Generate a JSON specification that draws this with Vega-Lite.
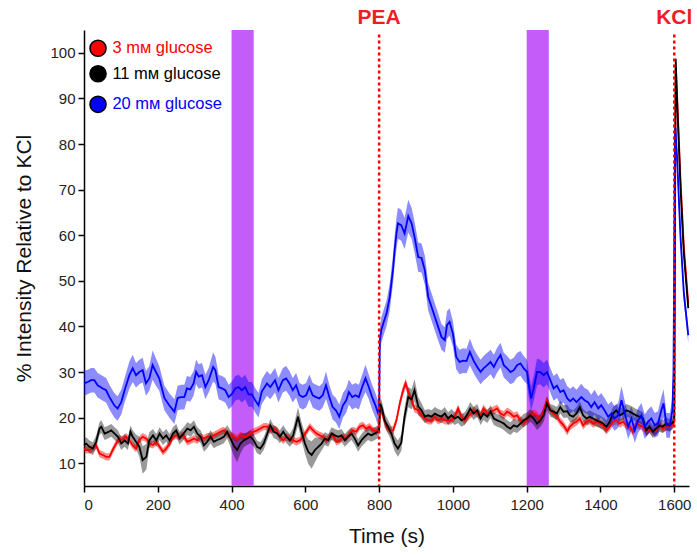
{
  "$schema": "https://vega.github.io/schema/vega-lite/v6.json",
  "width": 605,
  "height": 456,
  "autosize": "none",
  "padding": {"left": 84, "top": 30, "right": 8, "bottom": 69},
  "background": "white",
  "config": {
    "view": {"stroke": null},
    "font": "Liberation Sans",
    "axis": {"grid": false, "domainColor": "#000", "domainWidth": 1.5, "tickColor": "#000", "tickWidth": 1.5, "tickSize": 6, "labelFont": "Liberation Sans", "titleFont": "Liberation Sans", "labelFontSize": 15, "labelColor": "#222", "titleFontWeight": "normal", "titleColor": "#111"}
  },
  "datasets": {
    "red": [
      {"t":0,"v":13.2,"e":0.8},{"t":6,"v":12.9,"e":0.8},{"t":15,"v":12.9,"e":0.8},{"t":24,"v":13.2,"e":0.8},{"t":33,"v":13.9,"e":0.8},{"t":42,"v":12.1,"e":0.8},{"t":51,"v":11.8,"e":0.8},{"t":60,"v":11.4,"e":0.8},{"t":69,"v":11.4,"e":0.8},{"t":78,"v":12.9,"e":0.8},{"t":87,"v":14.3,"e":0.8},{"t":96,"v":15.4,"e":0.8},{"t":105,"v":15.1,"e":0.8},{"t":114,"v":15.8,"e":0.8},{"t":123,"v":15.1,"e":0.8},{"t":132,"v":13.9,"e":0.8},{"t":141,"v":13.2,"e":0.8},{"t":150,"v":15.1,"e":0.8},{"t":159,"v":15.8,"e":0.8},{"t":169,"v":15.4,"e":0.8},{"t":177,"v":14.3,"e":0.8},{"t":187,"v":14.0,"e":0.8},{"t":196,"v":14.7,"e":0.8},{"t":205,"v":13.6,"e":0.8},{"t":214,"v":12.5,"e":0.8},{"t":223,"v":13.2,"e":0.8},{"t":232,"v":14.3,"e":0.8},{"t":241,"v":15.8,"e":0.8},{"t":250,"v":16.1,"e":0.8},{"t":259,"v":15.8,"e":0.8},{"t":268,"v":16.2,"e":0.8},{"t":280,"v":14.7,"e":0.8},{"t":289,"v":15.0,"e":0.8},{"t":298,"v":15.4,"e":0.8},{"t":307,"v":15.0,"e":0.8},{"t":316,"v":15.8,"e":0.8},{"t":325,"v":15.4,"e":0.8},{"t":334,"v":15.8,"e":0.8},{"t":343,"v":15.8,"e":0.8},{"t":352,"v":16.1,"e":0.8},{"t":361,"v":16.5,"e":0.8},{"t":370,"v":16.9,"e":0.8},{"t":379,"v":17.2,"e":0.8},{"t":388,"v":16.5,"e":0.8},{"t":397,"v":16.1,"e":0.8},{"t":406,"v":15.8,"e":0.8},{"t":415,"v":15.4,"e":0.8},{"t":424,"v":16.1,"e":0.8},{"t":433,"v":15.8,"e":0.8},{"t":442,"v":15.8,"e":0.8},{"t":451,"v":16.5,"e":0.8},{"t":460,"v":16.9,"e":0.8},{"t":469,"v":17.2,"e":0.8},{"t":478,"v":17.6,"e":0.8},{"t":487,"v":18.0,"e":0.8},{"t":497,"v":18.0,"e":0.8},{"t":505,"v":17.2,"e":0.8},{"t":514,"v":17.6,"e":0.8},{"t":522,"v":17.2,"e":0.8},{"t":531,"v":15.8,"e":0.8},{"t":540,"v":15.0,"e":0.8},{"t":549,"v":15.8,"e":0.8},{"t":558,"v":15.4,"e":0.8},{"t":567,"v":15.0,"e":0.8},{"t":576,"v":14.7,"e":0.8},{"t":585,"v":15.0,"e":0.8},{"t":594,"v":15.8,"e":0.8},{"t":603,"v":16.9,"e":0.8},{"t":612,"v":18.0,"e":0.8},{"t":621,"v":17.2,"e":0.8},{"t":630,"v":16.5,"e":0.8},{"t":639,"v":16.1,"e":0.8},{"t":648,"v":15.8,"e":0.8},{"t":657,"v":15.0,"e":0.8},{"t":666,"v":15.8,"e":0.8},{"t":675,"v":16.1,"e":0.8},{"t":684,"v":14.7,"e":0.8},{"t":693,"v":15.0,"e":0.8},{"t":702,"v":15.8,"e":0.8},{"t":711,"v":15.4,"e":0.8},{"t":720,"v":16.5,"e":0.8},{"t":729,"v":17.2,"e":0.8},{"t":738,"v":16.9,"e":0.8},{"t":747,"v":18.0,"e":0.8},{"t":756,"v":18.3,"e":0.8},{"t":765,"v":17.6,"e":0.8},{"t":774,"v":18.0,"e":0.8},{"t":784,"v":17.2,"e":0.8},{"t":793,"v":16.9,"e":0.8},{"t":800,"v":18.0,"e":0.8},{"t":803,"v":22.3,"e":0.9},{"t":811,"v":20.2,"e":0.9},{"t":820,"v":18.0,"e":0.9},{"t":829,"v":17.2,"e":0.9},{"t":838,"v":17.2,"e":0.9},{"t":847,"v":19.4,"e":0.9},{"t":856,"v":23.1,"e":1.0},{"t":865,"v":26.0,"e":1.1},{"t":872,"v":27.5,"e":1.1},{"t":879,"v":25.6,"e":1.1},{"t":888,"v":23.8,"e":1.0},{"t":896,"v":22.0,"e":0.9},{"t":906,"v":21.6,"e":0.9},{"t":915,"v":20.5,"e":0.9},{"t":924,"v":19.8,"e":0.9},{"t":933,"v":19.4,"e":0.9},{"t":942,"v":19.4,"e":0.9},{"t":951,"v":20.2,"e":0.9},{"t":960,"v":19.4,"e":0.9},{"t":969,"v":19.8,"e":0.9},{"t":978,"v":19.4,"e":0.9},{"t":987,"v":19.4,"e":0.9},{"t":996,"v":19.4,"e":0.9},{"t":1005,"v":20.2,"e":0.9},{"t":1014,"v":22.0,"e":0.9},{"t":1023,"v":20.2,"e":0.9},{"t":1032,"v":19.4,"e":0.9},{"t":1041,"v":20.2,"e":0.9},{"t":1050,"v":20.9,"e":0.9},{"t":1056,"v":21.6,"e":0.9},{"t":1066,"v":20.9,"e":0.9},{"t":1075,"v":20.5,"e":0.9},{"t":1083,"v":22.0,"e":0.9},{"t":1093,"v":20.9,"e":0.9},{"t":1102,"v":21.3,"e":0.9},{"t":1111,"v":21.6,"e":0.9},{"t":1120,"v":22.0,"e":0.9},{"t":1129,"v":20.9,"e":0.9},{"t":1138,"v":20.5,"e":0.9},{"t":1147,"v":21.3,"e":0.9},{"t":1156,"v":20.9,"e":0.9},{"t":1165,"v":20.2,"e":0.9},{"t":1174,"v":20.5,"e":0.9},{"t":1183,"v":19.4,"e":0.9},{"t":1192,"v":18.7,"e":0.9},{"t":1201,"v":19.8,"e":0.9},{"t":1210,"v":20.5,"e":0.9},{"t":1219,"v":20.9,"e":0.9},{"t":1228,"v":20.5,"e":0.9},{"t":1237,"v":19.4,"e":0.9},{"t":1246,"v":21.6,"e":1.0},{"t":1255,"v":23.8,"e":1.0},{"t":1264,"v":21.6,"e":0.9},{"t":1273,"v":20.9,"e":0.9},{"t":1282,"v":20.2,"e":0.9},{"t":1291,"v":19.1,"e":0.9},{"t":1300,"v":18.3,"e":0.9},{"t":1310,"v":17.0,"e":0.9},{"t":1317,"v":18.0,"e":0.9},{"t":1326,"v":18.7,"e":0.9},{"t":1335,"v":19.1,"e":0.9},{"t":1344,"v":19.8,"e":0.9},{"t":1353,"v":18.3,"e":0.9},{"t":1362,"v":19.1,"e":0.9},{"t":1371,"v":19.4,"e":0.9},{"t":1380,"v":18.7,"e":0.9},{"t":1389,"v":19.1,"e":0.9},{"t":1398,"v":18.7,"e":0.9},{"t":1407,"v":18.3,"e":0.9},{"t":1416,"v":17.2,"e":0.9},{"t":1425,"v":18.0,"e":0.9},{"t":1434,"v":19.1,"e":0.9},{"t":1443,"v":19.4,"e":0.9},{"t":1452,"v":18.7,"e":0.9},{"t":1461,"v":19.1,"e":0.9},{"t":1470,"v":18.3,"e":0.9},{"t":1479,"v":18.0,"e":0.9},{"t":1488,"v":16.9,"e":0.9},{"t":1497,"v":18.7,"e":0.9},{"t":1506,"v":18.3,"e":0.9},{"t":1515,"v":18.0,"e":0.9},{"t":1524,"v":16.9,"e":0.9},{"t":1533,"v":17.6,"e":0.9},{"t":1542,"v":16.9,"e":0.9},{"t":1551,"v":17.2,"e":0.9},{"t":1560,"v":18.3,"e":0.9},{"t":1569,"v":17.6,"e":0.9},{"t":1578,"v":18.0,"e":0.9},{"t":1587,"v":18.0,"e":0.9},{"t":1597,"v":18.5,"e":0.9},{"t":1600,"v":19.0,"e":0.9},{"t":1602,"v":60.0,"e":1.0},{"t":1604,"v":97.0,"e":1.0},{"t":1608,"v":90.0,"e":1.0},{"t":1617,"v":72.0,"e":1.0},{"t":1626,"v":57.5,"e":1.0},{"t":1638,"v":45.0,"e":1.0}
    ],
    "black": [
      {"t":0,"v":14.0,"e":1.4},{"t":6,"v":14.3,"e":1.4},{"t":15,"v":13.6,"e":1.4},{"t":24,"v":13.2,"e":1.4},{"t":33,"v":14.7,"e":1.4},{"t":42,"v":17.6,"e":1.4},{"t":47,"v":18.0,"e":1.4},{"t":56,"v":16.5,"e":1.4},{"t":65,"v":16.8,"e":1.4},{"t":74,"v":17.2,"e":1.4},{"t":83,"v":16.5,"e":1.4},{"t":92,"v":15.8,"e":1.4},{"t":101,"v":14.3,"e":1.4},{"t":110,"v":15.0,"e":1.4},{"t":119,"v":14.3,"e":1.4},{"t":126,"v":16.9,"e":1.4},{"t":132,"v":15.8,"e":1.4},{"t":141,"v":14.7,"e":1.6},{"t":150,"v":13.6,"e":2.2},{"t":159,"v":10.7,"e":3.0},{"t":169,"v":11.4,"e":2.8},{"t":177,"v":15.0,"e":1.8},{"t":187,"v":16.1,"e":1.4},{"t":196,"v":15.0,"e":1.4},{"t":205,"v":16.5,"e":1.4},{"t":214,"v":15.4,"e":1.4},{"t":223,"v":16.1,"e":1.4},{"t":232,"v":15.0,"e":1.4},{"t":241,"v":16.5,"e":1.4},{"t":250,"v":17.2,"e":1.4},{"t":259,"v":15.5,"e":1.4},{"t":270,"v":16.5,"e":1.4},{"t":280,"v":17.6,"e":1.4},{"t":289,"v":17.2,"e":1.4},{"t":298,"v":18.0,"e":1.4},{"t":307,"v":16.5,"e":1.4},{"t":316,"v":15.8,"e":1.4},{"t":325,"v":13.9,"e":1.4},{"t":334,"v":14.7,"e":1.4},{"t":343,"v":15.8,"e":1.4},{"t":352,"v":14.7,"e":1.4},{"t":361,"v":15.1,"e":1.4},{"t":370,"v":15.4,"e":1.4},{"t":379,"v":15.8,"e":1.4},{"t":388,"v":16.9,"e":1.5},{"t":397,"v":15.4,"e":1.8},{"t":406,"v":13.9,"e":2.2},{"t":415,"v":12.9,"e":2.7},{"t":424,"v":14.3,"e":2.2},{"t":433,"v":15.0,"e":1.5},{"t":442,"v":15.4,"e":1.4},{"t":451,"v":15.8,"e":1.4},{"t":460,"v":15.0,"e":1.4},{"t":469,"v":13.6,"e":1.4},{"t":478,"v":13.2,"e":1.4},{"t":487,"v":14.3,"e":1.4},{"t":497,"v":16.5,"e":1.4},{"t":505,"v":18.3,"e":1.4},{"t":514,"v":16.9,"e":1.4},{"t":524,"v":16.5,"e":1.4},{"t":531,"v":15.8,"e":1.4},{"t":540,"v":16.9,"e":1.4},{"t":549,"v":15.8,"e":1.4},{"t":558,"v":15.0,"e":1.4},{"t":567,"v":16.1,"e":1.6},{"t":580,"v":20.2,"e":2.0},{"t":590,"v":16.9,"e":2.0},{"t":599,"v":14.3,"e":2.2},{"t":608,"v":12.5,"e":2.7},{"t":617,"v":11.8,"e":3.0},{"t":626,"v":12.9,"e":2.7},{"t":635,"v":13.6,"e":2.0},{"t":644,"v":14.3,"e":1.5},{"t":653,"v":15.4,"e":1.4},{"t":662,"v":15.0,"e":1.4},{"t":671,"v":16.5,"e":1.4},{"t":680,"v":16.1,"e":1.4},{"t":689,"v":15.8,"e":1.4},{"t":698,"v":16.1,"e":1.4},{"t":707,"v":15.0,"e":1.4},{"t":716,"v":15.8,"e":1.4},{"t":725,"v":16.5,"e":1.4},{"t":734,"v":15.4,"e":1.4},{"t":743,"v":13.9,"e":1.4},{"t":752,"v":15.0,"e":1.4},{"t":761,"v":15.8,"e":1.4},{"t":770,"v":16.5,"e":1.4},{"t":779,"v":16.1,"e":1.4},{"t":788,"v":16.5,"e":1.4},{"t":797,"v":16.9,"e":1.4},{"t":800,"v":17.0,"e":1.4},{"t":803,"v":23.1,"e":1.5},{"t":808,"v":22.0,"e":1.5},{"t":815,"v":19.4,"e":1.5},{"t":824,"v":18.0,"e":1.5},{"t":833,"v":16.5,"e":1.6},{"t":842,"v":14.3,"e":1.7},{"t":851,"v":13.2,"e":1.8},{"t":860,"v":14.5,"e":1.8},{"t":869,"v":20.2,"e":2.0},{"t":879,"v":24.5,"e":2.2},{"t":888,"v":24.0,"e":2.2},{"t":896,"v":26.0,"e":2.4},{"t":906,"v":22.5,"e":2.0},{"t":915,"v":21.6,"e":1.6},{"t":924,"v":20.2,"e":1.4},{"t":933,"v":20.5,"e":1.4},{"t":942,"v":20.2,"e":1.4},{"t":951,"v":20.9,"e":1.4},{"t":960,"v":20.5,"e":1.4},{"t":969,"v":20.2,"e":1.4},{"t":978,"v":20.9,"e":1.4},{"t":987,"v":19.8,"e":1.4},{"t":996,"v":20.5,"e":1.4},{"t":1005,"v":19.8,"e":1.4},{"t":1014,"v":20.2,"e":1.4},{"t":1023,"v":19.4,"e":1.4},{"t":1032,"v":19.8,"e":1.4},{"t":1041,"v":21.0,"e":1.4},{"t":1047,"v":22.0,"e":1.4},{"t":1056,"v":20.9,"e":1.4},{"t":1066,"v":21.6,"e":1.4},{"t":1075,"v":19.8,"e":1.4},{"t":1083,"v":20.9,"e":1.4},{"t":1093,"v":20.2,"e":1.4},{"t":1102,"v":21.3,"e":1.4},{"t":1111,"v":19.8,"e":1.4},{"t":1120,"v":19.4,"e":1.4},{"t":1129,"v":19.1,"e":1.4},{"t":1138,"v":18.7,"e":1.4},{"t":1147,"v":18.0,"e":1.4},{"t":1156,"v":17.6,"e":1.4},{"t":1165,"v":18.3,"e":1.4},{"t":1174,"v":18.0,"e":1.4},{"t":1183,"v":18.7,"e":1.4},{"t":1192,"v":19.4,"e":1.4},{"t":1201,"v":19.8,"e":1.4},{"t":1210,"v":20.5,"e":1.4},{"t":1219,"v":19.8,"e":1.4},{"t":1228,"v":18.7,"e":1.4},{"t":1237,"v":19.4,"e":1.4},{"t":1246,"v":20.5,"e":1.4},{"t":1255,"v":23.1,"e":1.5},{"t":1264,"v":21.6,"e":1.4},{"t":1273,"v":21.3,"e":1.4},{"t":1282,"v":20.9,"e":1.4},{"t":1291,"v":22.3,"e":1.4},{"t":1300,"v":21.3,"e":1.4},{"t":1310,"v":21.4,"e":1.4},{"t":1317,"v":20.5,"e":1.4},{"t":1326,"v":20.2,"e":1.4},{"t":1335,"v":20.9,"e":1.4},{"t":1344,"v":22.3,"e":1.4},{"t":1353,"v":20.5,"e":1.4},{"t":1362,"v":19.8,"e":1.4},{"t":1371,"v":20.2,"e":1.4},{"t":1380,"v":19.8,"e":1.4},{"t":1389,"v":19.4,"e":1.4},{"t":1398,"v":19.1,"e":1.4},{"t":1407,"v":18.7,"e":1.4},{"t":1416,"v":18.0,"e":1.4},{"t":1425,"v":19.1,"e":1.4},{"t":1434,"v":20.9,"e":1.4},{"t":1443,"v":21.6,"e":1.4},{"t":1452,"v":20.5,"e":1.4},{"t":1461,"v":20.9,"e":1.4},{"t":1470,"v":21.6,"e":1.4},{"t":1479,"v":21.3,"e":1.4},{"t":1488,"v":20.9,"e":1.4},{"t":1497,"v":20.5,"e":1.4},{"t":1506,"v":20.2,"e":1.4},{"t":1515,"v":19.8,"e":1.4},{"t":1524,"v":17.2,"e":1.4},{"t":1533,"v":18.0,"e":1.4},{"t":1542,"v":16.9,"e":1.4},{"t":1551,"v":17.6,"e":1.4},{"t":1560,"v":18.3,"e":1.4},{"t":1569,"v":18.0,"e":1.4},{"t":1578,"v":18.7,"e":1.4},{"t":1587,"v":18.3,"e":1.4},{"t":1597,"v":19.0,"e":1.4},{"t":1600,"v":20.0,"e":1.4},{"t":1602,"v":70.0,"e":1.2},{"t":1604,"v":98.7,"e":1.2},{"t":1608,"v":89.0,"e":1.2},{"t":1617,"v":70.6,"e":1.2},{"t":1626,"v":56.0,"e":1.2},{"t":1638,"v":44.0,"e":1.2}
    ],
    "blue": [
      {"t":0,"v":27.5,"e":2.7},{"t":10,"v":27.8,"e":2.7},{"t":19,"v":28.2,"e":2.7},{"t":28,"v":28.2,"e":2.7},{"t":37,"v":27.1,"e":2.7},{"t":51,"v":26.4,"e":2.7},{"t":60,"v":26.0,"e":2.7},{"t":69,"v":24.5,"e":2.7},{"t":82,"v":22.7,"e":2.7},{"t":91,"v":22.0,"e":2.7},{"t":101,"v":23.4,"e":2.7},{"t":110,"v":26.0,"e":2.7},{"t":123,"v":29.3,"e":3.0},{"t":132,"v":30.8,"e":3.0},{"t":141,"v":29.3,"e":2.7},{"t":150,"v":30.0,"e":2.7},{"t":159,"v":30.4,"e":2.7},{"t":168,"v":27.5,"e":2.7},{"t":177,"v":28.6,"e":2.7},{"t":186,"v":31.5,"e":3.2},{"t":195,"v":30.0,"e":3.0},{"t":204,"v":28.6,"e":2.7},{"t":218,"v":24.3,"e":2.7},{"t":231,"v":22.7,"e":2.7},{"t":245,"v":21.3,"e":2.7},{"t":254,"v":24.3,"e":2.7},{"t":263,"v":24.5,"e":2.7},{"t":272,"v":24.5,"e":2.7},{"t":279,"v":26.4,"e":2.7},{"t":288,"v":26.2,"e":2.7},{"t":297,"v":27.5,"e":2.7},{"t":304,"v":30.0,"e":2.7},{"t":311,"v":29.0,"e":2.7},{"t":320,"v":29.3,"e":2.7},{"t":329,"v":26.7,"e":2.7},{"t":338,"v":28.2,"e":2.7},{"t":350,"v":31.1,"e":3.2},{"t":356,"v":30.4,"e":3.0},{"t":365,"v":26.7,"e":2.7},{"t":374,"v":26.4,"e":2.7},{"t":383,"v":26.0,"e":2.7},{"t":392,"v":24.5,"e":2.7},{"t":401,"v":25.2,"e":2.7},{"t":410,"v":26.4,"e":2.7},{"t":419,"v":26.7,"e":2.7},{"t":428,"v":26.0,"e":2.7},{"t":437,"v":26.7,"e":2.7},{"t":446,"v":25.1,"e":2.7},{"t":455,"v":25.1,"e":2.7},{"t":464,"v":23.8,"e":2.7},{"t":473,"v":22.7,"e":2.7},{"t":482,"v":25.7,"e":2.7},{"t":496,"v":27.5,"e":2.7},{"t":505,"v":26.7,"e":2.7},{"t":518,"v":28.2,"e":2.7},{"t":527,"v":26.0,"e":2.7},{"t":539,"v":28.2,"e":2.7},{"t":548,"v":28.6,"e":2.7},{"t":557,"v":27.5,"e":2.7},{"t":566,"v":26.0,"e":2.7},{"t":575,"v":27.1,"e":2.7},{"t":584,"v":24.9,"e":2.7},{"t":593,"v":24.5,"e":2.7},{"t":602,"v":24.9,"e":2.7},{"t":611,"v":26.7,"e":2.7},{"t":620,"v":24.9,"e":2.7},{"t":629,"v":24.5,"e":2.7},{"t":638,"v":24.2,"e":2.7},{"t":647,"v":24.9,"e":2.7},{"t":656,"v":27.1,"e":3.0},{"t":665,"v":24.5,"e":2.7},{"t":674,"v":22.3,"e":2.7},{"t":683,"v":21.6,"e":2.7},{"t":692,"v":20.2,"e":2.7},{"t":702,"v":22.7,"e":2.7},{"t":711,"v":23.8,"e":2.7},{"t":718,"v":25.6,"e":2.7},{"t":727,"v":24.5,"e":2.7},{"t":736,"v":24.9,"e":2.7},{"t":745,"v":24.5,"e":2.7},{"t":754,"v":26.7,"e":2.7},{"t":763,"v":28.6,"e":3.0},{"t":772,"v":26.7,"e":2.7},{"t":781,"v":24.5,"e":2.7},{"t":790,"v":22.7,"e":2.7},{"t":796,"v":21.2,"e":2.7},{"t":800,"v":22.0,"e":2.7},{"t":802,"v":37.0,"e":2.8},{"t":806,"v":39.2,"e":2.8},{"t":811,"v":40.6,"e":2.8},{"t":820,"v":42.8,"e":2.8},{"t":829,"v":46.5,"e":3.0},{"t":833,"v":49.4,"e":3.0},{"t":838,"v":52.7,"e":3.2},{"t":842,"v":56.7,"e":3.2},{"t":847,"v":60.4,"e":3.4},{"t":851,"v":62.6,"e":3.4},{"t":860,"v":62.2,"e":3.4},{"t":869,"v":60.4,"e":3.4},{"t":879,"v":64.2,"e":3.6},{"t":888,"v":62.6,"e":3.4},{"t":896,"v":59.6,"e":3.4},{"t":906,"v":55.2,"e":3.2},{"t":915,"v":55.0,"e":3.2},{"t":924,"v":52.3,"e":3.2},{"t":933,"v":46.5,"e":3.0},{"t":942,"v":44.3,"e":3.0},{"t":951,"v":42.1,"e":3.0},{"t":960,"v":39.9,"e":3.0},{"t":969,"v":37.7,"e":2.8},{"t":978,"v":37.0,"e":2.8},{"t":984,"v":40.3,"e":3.0},{"t":991,"v":41.0,"e":3.0},{"t":1000,"v":38.4,"e":2.8},{"t":1009,"v":33.3,"e":2.7},{"t":1018,"v":32.2,"e":2.7},{"t":1028,"v":32.5,"e":2.7},{"t":1037,"v":32.4,"e":2.7},{"t":1046,"v":34.4,"e":2.9},{"t":1056,"v":32.5,"e":2.7},{"t":1066,"v":31.1,"e":2.7},{"t":1075,"v":30.0,"e":2.7},{"t":1083,"v":30.8,"e":2.7},{"t":1093,"v":31.5,"e":2.7},{"t":1102,"v":32.2,"e":2.7},{"t":1111,"v":31.1,"e":2.7},{"t":1120,"v":32.6,"e":2.7},{"t":1129,"v":33.7,"e":2.7},{"t":1138,"v":31.5,"e":2.7},{"t":1147,"v":30.8,"e":2.7},{"t":1156,"v":30.0,"e":2.7},{"t":1165,"v":30.4,"e":2.7},{"t":1174,"v":31.5,"e":2.7},{"t":1183,"v":31.9,"e":2.7},{"t":1192,"v":30.8,"e":2.7},{"t":1201,"v":30.0,"e":2.7},{"t":1205,"v":27.5,"e":2.7},{"t":1212,"v":24.2,"e":2.7},{"t":1219,"v":26.4,"e":2.7},{"t":1228,"v":30.0,"e":2.9},{"t":1237,"v":30.0,"e":2.7},{"t":1246,"v":29.3,"e":2.7},{"t":1255,"v":30.0,"e":2.7},{"t":1264,"v":28.2,"e":2.7},{"t":1273,"v":26.4,"e":2.7},{"t":1282,"v":27.0,"e":2.7},{"t":1291,"v":25.6,"e":2.7},{"t":1300,"v":26.0,"e":2.7},{"t":1310,"v":24.2,"e":2.7},{"t":1318,"v":23.6,"e":2.7},{"t":1326,"v":24.2,"e":2.7},{"t":1335,"v":23.4,"e":2.7},{"t":1348,"v":24.5,"e":2.9},{"t":1357,"v":23.8,"e":2.7},{"t":1366,"v":23.4,"e":2.7},{"t":1375,"v":22.3,"e":2.7},{"t":1384,"v":23.4,"e":2.7},{"t":1394,"v":22.0,"e":2.7},{"t":1402,"v":22.7,"e":2.7},{"t":1411,"v":21.6,"e":2.7},{"t":1421,"v":20.2,"e":2.7},{"t":1430,"v":20.9,"e":2.7},{"t":1438,"v":19.8,"e":2.7},{"t":1448,"v":20.5,"e":2.7},{"t":1457,"v":23.8,"e":3.1},{"t":1466,"v":20.9,"e":2.7},{"t":1475,"v":18.0,"e":2.7},{"t":1484,"v":19.8,"e":2.7},{"t":1493,"v":17.2,"e":2.7},{"t":1502,"v":19.4,"e":2.7},{"t":1511,"v":20.5,"e":2.7},{"t":1520,"v":18.0,"e":2.7},{"t":1529,"v":19.1,"e":2.7},{"t":1538,"v":19.8,"e":2.7},{"t":1547,"v":18.3,"e":2.7},{"t":1556,"v":18.7,"e":2.7},{"t":1565,"v":21.6,"e":2.9},{"t":1571,"v":23.1,"e":3.1},{"t":1579,"v":18.3,"e":2.7},{"t":1588,"v":18.3,"e":2.7},{"t":1595,"v":21.6,"e":2.7},{"t":1598,"v":30.0,"e":2.5},{"t":1601,"v":70.0,"e":2.4},{"t":1603,"v":83.5,"e":2.4},{"t":1608,"v":76.4,"e":2.4},{"t":1617,"v":59.6,"e":2.2},{"t":1626,"v":47.3,"e":2.0},{"t":1638,"v":38.1,"e":1.8}
    ],
    "stims": [{"a":400,"b":460},{"a":1200,"b":1260}],
    "events": [{"t":800,"label":"PEA"},{"t":1600,"label":"KCl"}],
    "legend": [
      {"cond":"3 mᴍ glucose","x":38,"xt":77,"y":101.0,"col":"red"},
      {"cond":"11 mᴍ glucose","x":38,"xt":77,"y":95.4,"col":"black"},
      {"cond":"20 mᴍ glucose","x":38,"xt":77,"y":88.7,"col":"blue"}
    ]
  },
  "layer": [
    {
      "data": {"name": "stims"},
      "mark": {"type": "rect", "color": "#c35cf8", "opacity": 1},
      "encoding": {
        "x": {"field": "a", "type": "quantitative", "title": "Time (s)", "scale": {"domain": [0, 1640], "nice": false, "zero": false}, "axis": {"title": "Time (s)", "format": "d", "values": [0,200,400,600,800,1000,1200,1400,1600], "titleFontSize": 21, "titlePadding": 13, "labelPadding": 5}},
        "x2": {"field": "b"}
      }
    },
    {
      "data": {"name": "red"},
      "mark": {"type": "errorband", "color": "#ff0000", "opacity": 0.45},
      "encoding": {
        "x": {"field": "t", "type": "quantitative", "title": "Time (s)"},
        "y": {"field": "v", "type": "quantitative", "title": "% Intensity Relative to KCl", "scale": {"domain": [5, 105], "nice": false, "zero": false}, "axis": {"title": "% Intensity Relative to KCl", "values": [10,20,30,40,50,60,70,80,90,100], "titleFontSize": 21, "titlePadding": 15, "labelPadding": 3}},
        "yError": {"field": "e"}
      }
    },
    {
      "data": {"name": "black"},
      "mark": {"type": "errorband", "color": "#000000", "opacity": 0.4},
      "encoding": {
        "x": {"field": "t", "type": "quantitative", "title": "Time (s)"},
        "y": {"field": "v", "type": "quantitative", "title": "% Intensity Relative to KCl"},
        "yError": {"field": "e"}
      }
    },
    {
      "data": {"name": "blue"},
      "mark": {"type": "errorband", "color": "#0000ff", "opacity": 0.45},
      "encoding": {
        "x": {"field": "t", "type": "quantitative", "title": "Time (s)"},
        "y": {"field": "v", "type": "quantitative", "title": "% Intensity Relative to KCl"},
        "yError": {"field": "e"}
      }
    },
    {
      "data": {"name": "red"},
      "mark": {"type": "line", "color": "#ff0000", "strokeWidth": 1.8},
      "encoding": {"x": {"field": "t", "type": "quantitative", "title": "Time (s)"}, "y": {"field": "v", "type": "quantitative", "title": "% Intensity Relative to KCl"}}
    },
    {
      "data": {"name": "black"},
      "mark": {"type": "line", "color": "#000000", "strokeWidth": 1.8},
      "encoding": {"x": {"field": "t", "type": "quantitative", "title": "Time (s)"}, "y": {"field": "v", "type": "quantitative", "title": "% Intensity Relative to KCl"}}
    },
    {
      "data": {"name": "blue"},
      "mark": {"type": "line", "color": "#0000ff", "strokeWidth": 1.8},
      "encoding": {"x": {"field": "t", "type": "quantitative", "title": "Time (s)"}, "y": {"field": "v", "type": "quantitative", "title": "% Intensity Relative to KCl"}}
    },
    {
      "data": {"name": "events"},
      "mark": {"type": "rule", "color": "#ff0000", "strokeWidth": 2.5, "strokeDash": [3, 3]},
      "encoding": {"x": {"field": "t", "type": "quantitative", "title": "Time (s)"}, "y": {"datum": 104}, "y2": {"datum": 5}}
    },
    {
      "data": {"name": "events"},
      "mark": {"type": "text", "color": "#ee1d23", "fontWeight": "bold", "fontSize": 21, "font": "Liberation Sans", "baseline": "middle", "align": "center"},
      "encoding": {"x": {"field": "t", "type": "quantitative", "title": "Time (s)"}, "y": {"datum": 107.6}, "text": {"field": "label"}}
    },
    {
      "data": {"name": "legend"},
      "mark": {"type": "point", "shape": "circle", "filled": true, "size": 260, "stroke": "#000", "strokeWidth": 1.5, "opacity": 1},
      "encoding": {
        "x": {"field": "x", "type": "quantitative", "title": "Time (s)"},
        "y": {"field": "y", "type": "quantitative", "title": "% Intensity Relative to KCl"},
        "fill": {"field": "col", "type": "nominal", "scale": null, "legend": null}
      }
    },
    {
      "data": {"name": "legend"},
      "mark": {"type": "text", "fontSize": 16.5, "font": "Liberation Sans", "align": "left", "baseline": "middle"},
      "encoding": {
        "x": {"field": "xt", "type": "quantitative", "title": "Time (s)"},
        "y": {"field": "y", "type": "quantitative", "title": "% Intensity Relative to KCl"},
        "text": {"field": "cond"},
        "color": {"field": "col", "type": "nominal", "scale": null, "legend": null}
      }
    }
  ]
}
